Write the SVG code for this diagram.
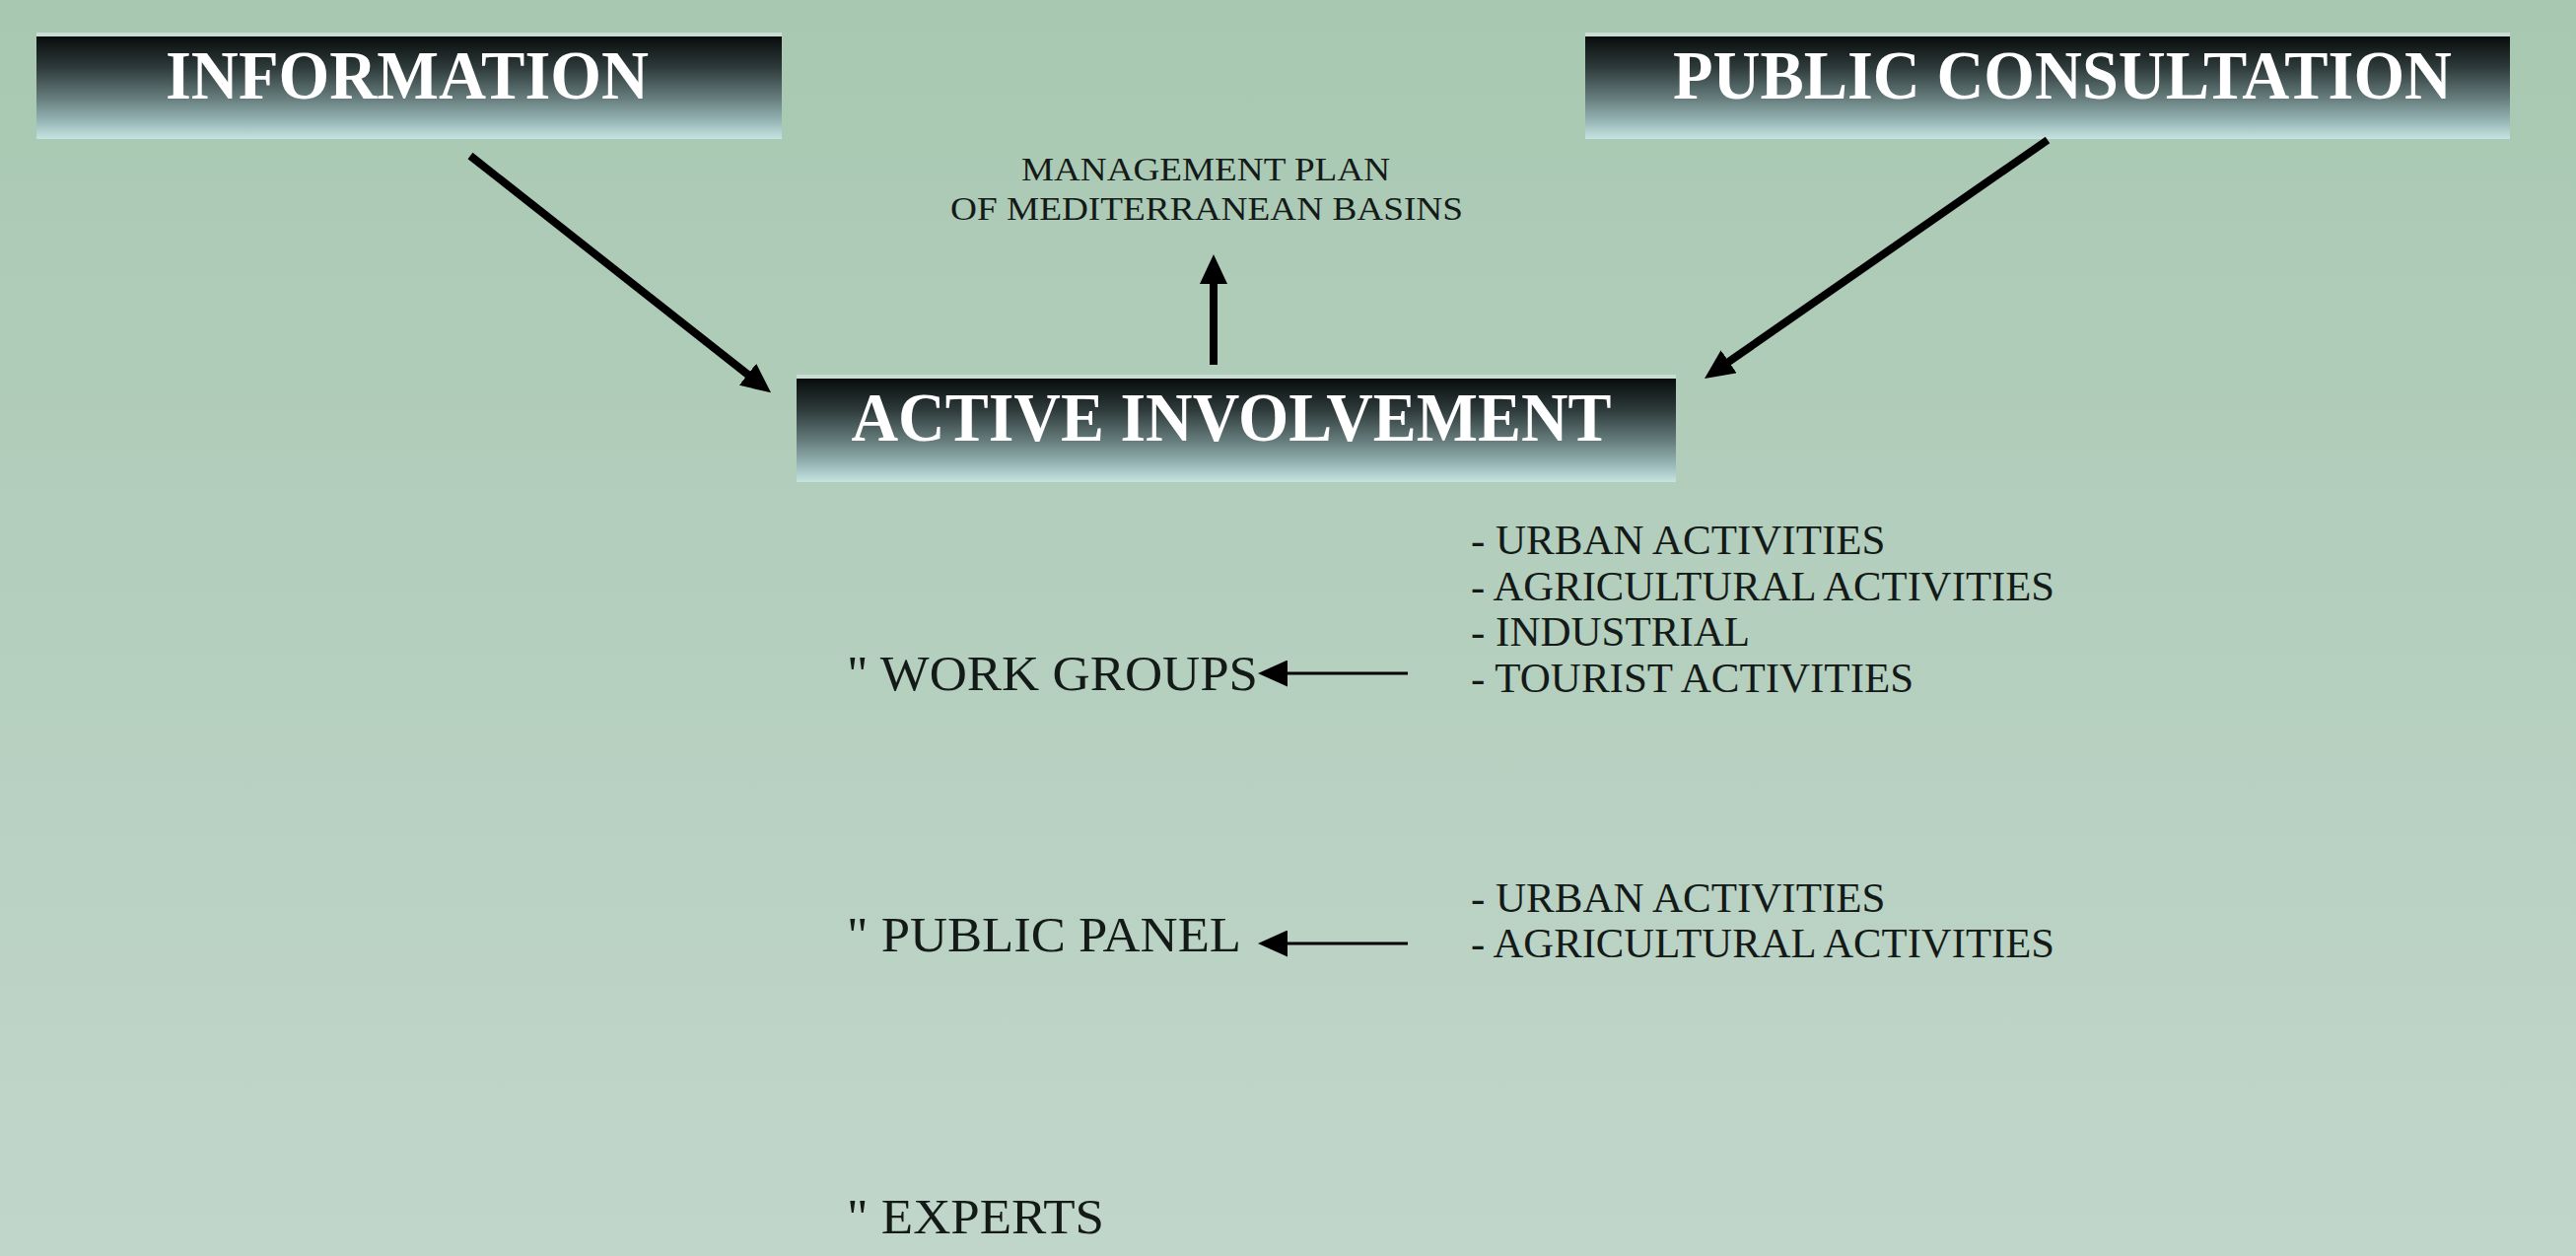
<svg xmlns="http://www.w3.org/2000/svg" width="2613" height="1274" viewBox="0 0 2613 1274">
<style>
.bg{fill:url(#bgGrad)}
.box{fill:url(#boxGrad)}
.boxTop{fill:#c9ddd4}
.title{font-family:"Liberation Serif","Times New Roman",serif;font-weight:bold;font-size:70px;fill:#ffffff;text-anchor:middle}
.label{font-family:"Liberation Serif","Times New Roman",serif;fill:#141a18}
.mp{font-size:34px;text-anchor:middle}
.grp{font-size:50px}
.item{font-size:43px}
.big{stroke:#000;stroke-width:8;fill:none}
.small{stroke:#000;stroke-width:3;fill:none}
</style>
<defs>
<linearGradient id="bgGrad" x1="0" y1="0" x2="0" y2="1">
<stop offset="0" stop-color="#a8c8b1"/>
<stop offset="1" stop-color="#c1d6cb"/>
</linearGradient>
<linearGradient id="boxGrad" x1="0" y1="0" x2="0" y2="1">
<stop offset="0" stop-color="#080c0c"/>
<stop offset="0.3" stop-color="#2e3a3a"/>
<stop offset="0.6" stop-color="#667c7c"/>
<stop offset="0.85" stop-color="#9dbcbc"/>
<stop offset="1" stop-color="#c6e4e0"/>
</linearGradient>
<marker id="headBig" markerWidth="30" markerHeight="28" refX="2" refY="14" orient="auto" markerUnits="userSpaceOnUse">
<path d="M0,0 L30,14 L0,28 z" fill="#000"/>
</marker>
<marker id="headSmall" markerWidth="30" markerHeight="27" refX="1" refY="13.5" orient="auto" markerUnits="userSpaceOnUse">
<path d="M0,0 L30,13.5 L0,27 z" fill="#000"/>
</marker>
</defs>
<rect class="bg" x="0" y="0" width="2613" height="1274"/>

<g id="information">
<rect class="boxTop" x="37" y="33" width="756" height="4"/>
<rect class="box" x="37" y="37" width="756" height="104"/>
<text class="title" x="413" y="100" textLength="490" lengthAdjust="spacingAndGlyphs">INFORMATION</text>
</g>

<g id="public-consultation">
<rect class="boxTop" x="1608" y="33" width="938" height="4"/>
<rect class="box" x="1608" y="37" width="938" height="104"/>
<text class="title" x="2092" y="100" textLength="790" lengthAdjust="spacingAndGlyphs">PUBLIC CONSULTATION</text>
</g>

<g id="management-plan">
<text class="label mp" x="1223" y="183" textLength="374" lengthAdjust="spacingAndGlyphs">MANAGEMENT PLAN</text>
<text class="label mp" x="1224" y="223" textLength="520" lengthAdjust="spacingAndGlyphs">OF MEDITERRANEAN BASINS</text>
</g>

<g id="active-involvement">
<rect class="boxTop" x="808" y="380" width="892" height="4"/>
<rect class="box" x="808" y="384" width="892" height="105"/>
<text class="title" x="1249" y="447" textLength="771" lengthAdjust="spacingAndGlyphs">ACTIVE INVOLVEMENT</text>
</g>

<g id="work-groups">
<text class="label grp" x="859" y="700" textLength="417" lengthAdjust="spacingAndGlyphs">" WORK GROUPS</text>
</g>

<g id="work-groups-list">
<text class="label item" x="1492" y="562">- URBAN ACTIVITIES</text>
<text class="label item" x="1492" y="609" textLength="592" lengthAdjust="spacingAndGlyphs">- AGRICULTURAL ACTIVITIES</text>
<text class="label item" x="1492" y="655">- INDUSTRIAL</text>
<text class="label item" x="1492" y="702">- TOURIST ACTIVITIES</text>
</g>

<g id="public-panel">
<text class="label grp" x="859" y="965" textLength="400" lengthAdjust="spacingAndGlyphs">" PUBLIC PANEL</text>
</g>

<g id="public-panel-list">
<text class="label item" x="1492" y="925">- URBAN ACTIVITIES</text>
<text class="label item" x="1492" y="971" textLength="592" lengthAdjust="spacingAndGlyphs">- AGRICULTURAL ACTIVITIES</text>
</g>

<g id="experts">
<text class="label grp" x="859" y="1251" textLength="261" lengthAdjust="spacingAndGlyphs">" EXPERTS</text>
</g>

<g id="connectors">
<line class="big" x1="477" y1="158" x2="760" y2="381" marker-end="url(#headBig)"/>
<line class="big" x1="2077" y1="142" x2="1752" y2="368" marker-end="url(#headBig)"/>
<line class="big" x1="1231" y1="370" x2="1231" y2="286" marker-end="url(#headBig)"/>
<line class="small" x1="1428" y1="683" x2="1305" y2="683" marker-end="url(#headSmall)"/>
<line class="small" x1="1428" y1="957" x2="1305" y2="957" marker-end="url(#headSmall)"/>
</g>
</svg>
